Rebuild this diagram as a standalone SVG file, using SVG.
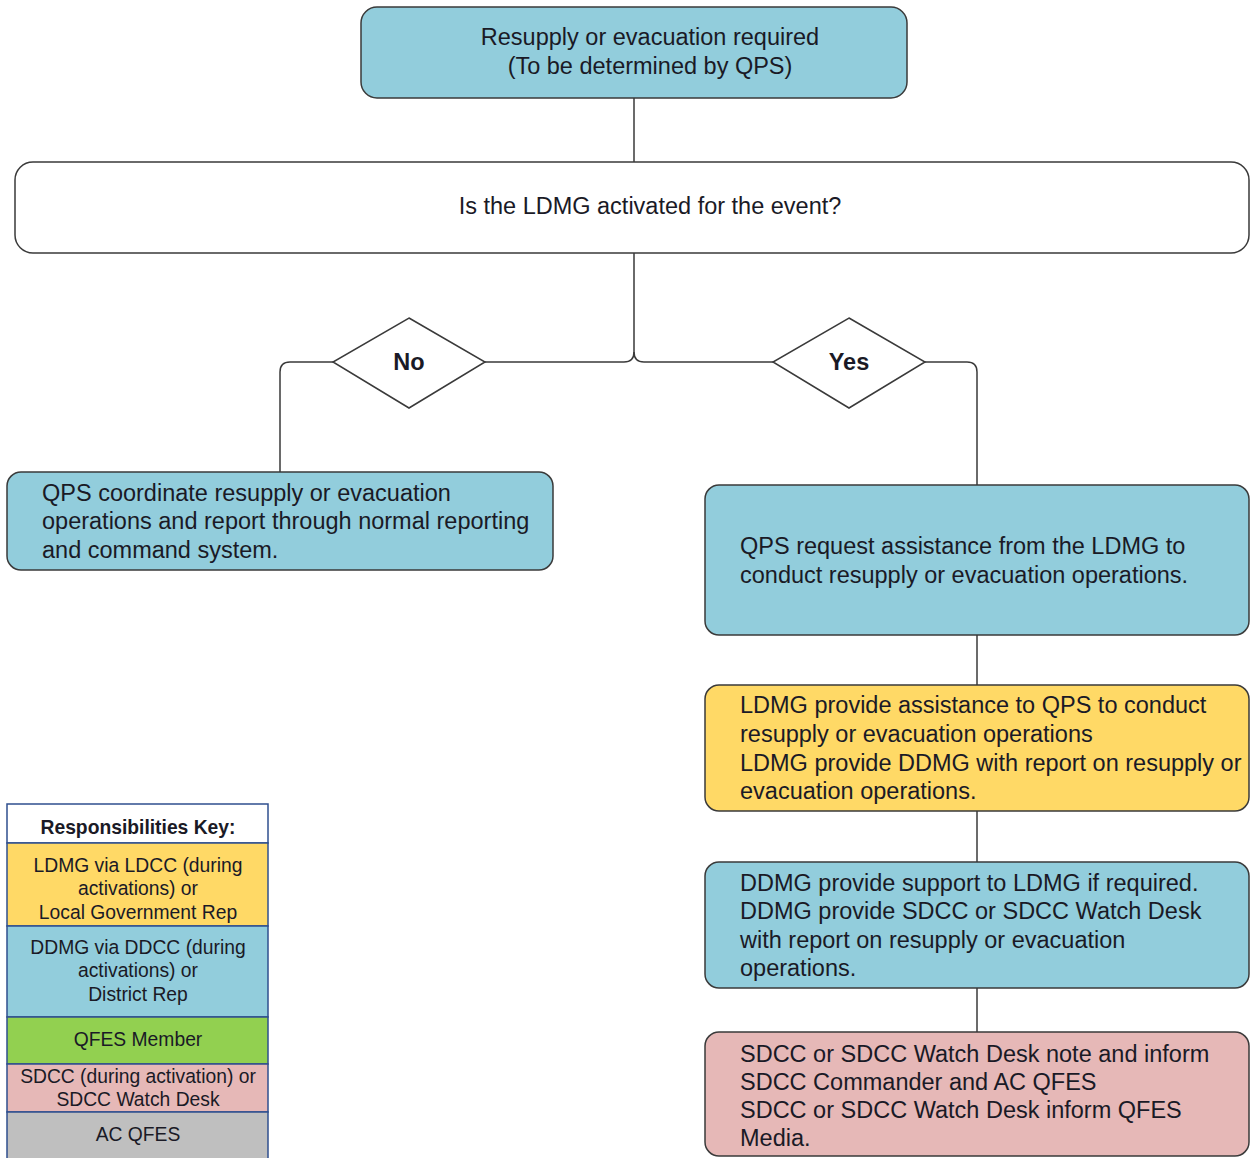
<svg xmlns="http://www.w3.org/2000/svg" width="1251" height="1158" viewBox="0 0 1251 1158">
<style>
.box{stroke:#3a3a3a;stroke-width:1.5}
.blue{fill:#92CDDC}
.yellow{fill:#FFD966}
.pink{fill:#E6B8B7}
.white{fill:#ffffff}
.t{font-family:"Liberation Sans",Arial,sans-serif;font-size:23.5px;fill:#1a1a26}
.c{text-anchor:middle}
.b{font-weight:bold}
.k{font-family:"Liberation Sans",Arial,sans-serif;font-size:19.3px;fill:#1a1a26;text-anchor:middle}
.conn{fill:none;stroke:#3a3a3a;stroke-width:1.5}
.leg{stroke:#2F4F8F;stroke-width:1.5}
</style>
<rect width="1251" height="1158" fill="#ffffff"/>
<g id="connectors">
<path class="conn" d="M634 98 V162"/>
<path class="conn" d="M634 253 V352 Q634 362 624 362 H485"/>
<path class="conn" d="M634 352 Q634 362 644 362 H773"/>
<path class="conn" d="M333 362 H290 Q280 362 280 372 V472"/>
<path class="conn" d="M925 362 H967 Q977 362 977 372 V485"/>
<path class="conn" d="M977 635 V685"/>
<path class="conn" d="M977 811 V862"/>
<path class="conn" d="M977 988 V1032"/>
</g>
<g id="start">
<rect class="box blue" x="361" y="7" width="546" height="91" rx="16"/>
<text class="t c" x="650" y="45">Resupply or evacuation required</text>
<text class="t c" x="650" y="74">(To be determined by QPS)</text>
</g>
<g id="question">
<rect class="box white" x="15" y="162" width="1234" height="91" rx="18"/>
<text class="t c" x="650" y="214">Is the LDMG activated for the event?</text>
</g>
<g id="no">
<polygon class="box white" points="409,318 485,362 409,408 333,362"/>
<text class="t c b" x="409" y="370">No</text>
</g>
<g id="yes">
<polygon class="box white" points="849,318 925,362 849,408 773,362"/>
<text class="t c b" x="849" y="370">Yes</text>
</g>
<g id="qps-coordinate">
<rect class="box blue" x="7" y="472" width="546" height="98" rx="14"/>
<text class="t" x="42" y="501">QPS coordinate resupply or evacuation</text>
<text class="t" x="42" y="529">operations and report through normal reporting</text>
<text class="t" x="42" y="558">and command system.</text>
</g>
<g id="qps-request">
<rect class="box blue" x="705" y="485" width="544" height="150" rx="14"/>
<text class="t" x="740" y="554">QPS request assistance from the LDMG to</text>
<text class="t" x="740" y="583">conduct resupply or evacuation operations.</text>
</g>
<g id="ldmg-assist">
<rect class="box yellow" x="705" y="685" width="544" height="126" rx="14"/>
<text class="t" x="740" y="713">LDMG provide assistance to QPS to conduct</text>
<text class="t" x="740" y="742">resupply or evacuation operations</text>
<text class="t" x="740" y="771">LDMG provide DDMG with report on resupply or</text>
<text class="t" x="740" y="799">evacuation operations.</text>
</g>
<g id="ddmg-support">
<rect class="box blue" x="705" y="862" width="544" height="126" rx="14"/>
<text class="t" x="740" y="891">DDMG provide support to LDMG if required.</text>
<text class="t" x="740" y="919">DDMG provide SDCC or SDCC Watch Desk</text>
<text class="t" x="740" y="948">with report on resupply or evacuation</text>
<text class="t" x="740" y="976">operations.</text>
</g>
<g id="sdcc-inform">
<rect class="box pink" x="705" y="1032" width="544" height="124" rx="14"/>
<text class="t" x="740" y="1062">SDCC or SDCC Watch Desk note and inform</text>
<text class="t" x="740" y="1090">SDCC Commander and AC QFES</text>
<text class="t" x="740" y="1118">SDCC or SDCC Watch Desk inform QFES</text>
<text class="t" x="740" y="1146">Media.</text>
</g>
<g id="legend">
<rect class="leg" x="7" y="804" width="261" height="39" fill="#ffffff"/>
<rect class="leg" x="7" y="843" width="261" height="83" fill="#FFD966"/>
<rect class="leg" x="7" y="926" width="261" height="91" fill="#92CDDC"/>
<rect class="leg" x="7" y="1017" width="261" height="47" fill="#92D050"/>
<rect class="leg" x="7" y="1064" width="261" height="48" fill="#E6B8B7"/>
<rect class="leg" x="7" y="1112" width="261" height="50" fill="#BFBFBF"/>
<text class="k b" x="138" y="834">Responsibilities Key:</text>
<text class="k" x="138" y="872">LDMG via LDCC (during</text>
<text class="k" x="138" y="895">activations) or</text>
<text class="k" x="138" y="919">Local Government Rep</text>
<text class="k" x="138" y="954">DDMG via DDCC (during</text>
<text class="k" x="138" y="977">activations) or</text>
<text class="k" x="138" y="1001">District Rep</text>
<text class="k" x="138" y="1046">QFES Member</text>
<text class="k" x="138" y="1083">SDCC (during activation) or</text>
<text class="k" x="138" y="1106">SDCC Watch Desk</text>
<text class="k" x="138" y="1141">AC QFES</text>
</g>
</svg>
